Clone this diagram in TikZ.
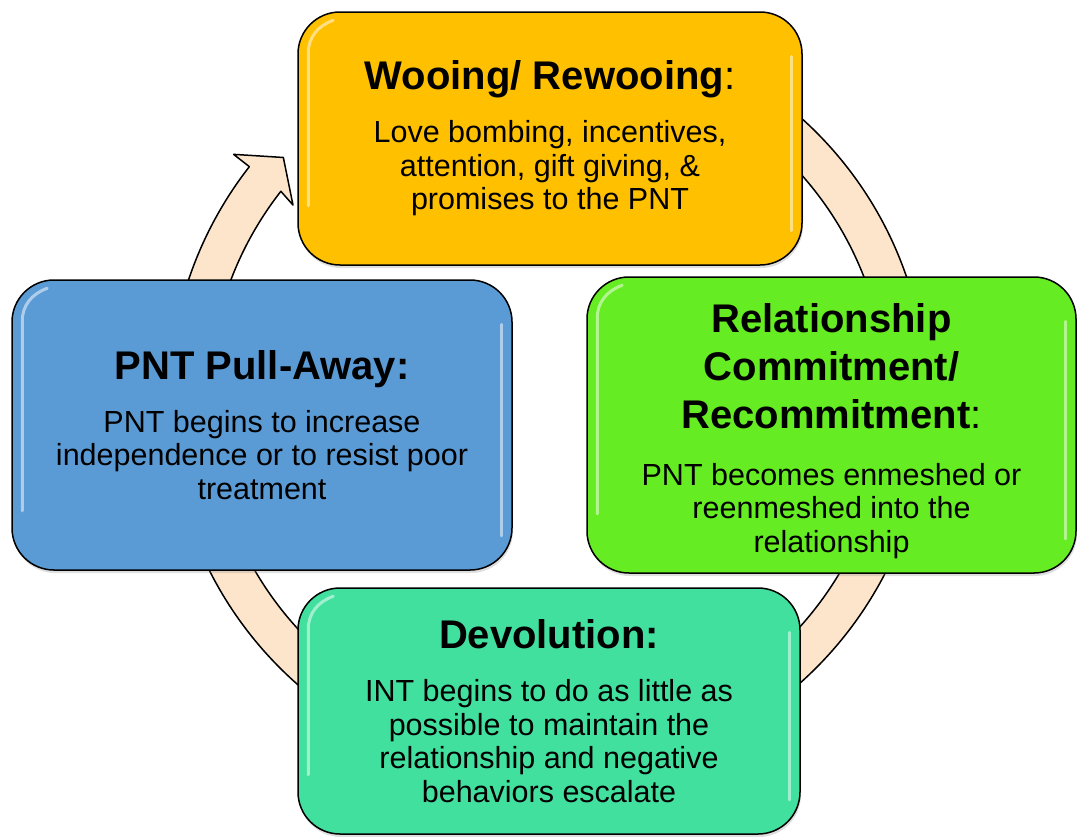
\documentclass[tikz,border=0pt]{standalone}
\usepackage{fontspec}
\setmainfont{Liberation Sans}
\usetikzlibrary{calc,shadows}

\definecolor{woocol}{HTML}{FFC000}
\definecolor{commitcol}{HTML}{66EC22}
\definecolor{devocol}{HTML}{42E09E}
\definecolor{pullcol}{HTML}{5B9BD5}
\definecolor{ringcol}{HTML}{FDE5CB}

\newcommand{\stagetext}[3][19.5pt]{\begin{minipage}{460pt}\centering
  {\fontsize{40}{48}\selectfont #2\par}\vspace{#1}
  {\fontsize{30.5}{33.5}\selectfont #3\par}\end{minipage}}

\begin{document}
\begin{tikzpicture}[x=1pt, y=1pt,
    stage/.style={rectangle, rounded corners=42pt, draw=black, line width=1.5pt, inner sep=0pt,
      drop shadow={opacity=0.25, shadow xshift=1pt, shadow yshift=-3pt}},
    ring/.style={draw=black, line width=1.5pt, fill=ringcol, line join=round},
    gloss/.style={white, opacity=0.5, line width=3pt, line cap=round}]
  \useasboundingbox (0,0) rectangle (1078,-836);

  % cycle arrow behind the boxes
  \coordinate (hub) at (548,-400);
  \draw[ring] ($(hub)+(95:379)$) arc[start angle=95, end angle=-218, radius=379]
    -- ($(hub)+(142:399)$) -- ($(hub)+(137.5:359)$) -- ($(hub)+(142.6:321)$)
    -- ($(hub)+(142:339)$) arc[start angle=142, end angle=455, radius=339] -- cycle;

  % the four stages
  \node[stage, fill=woocol, minimum width=504pt, minimum height=253pt] (woo) at (550,-138.5)
    {\stagetext{\textbf{Wooing/ Rewooing}:}{Love bombing, incentives,\\ attention, gift giving, \&\\ promises to the PNT}};
  \node[stage, fill=commitcol, minimum width=489pt, minimum height=296pt] (commit) at (831.5,-425)
    {\raisebox{-6pt}[\height][\depth]{\stagetext[23pt]{\textbf{Relationship\\ Commitment/\\ Recommitment}:}{PNT becomes enmeshed or\\ reenmeshed into the\\ relationship}}};
  \node[stage, fill=devocol, minimum width=502pt, minimum height=246pt] (devo) at (549,-711)
    {\stagetext{\textbf{Devolution:}}{INT begins to do as little as\\ possible to maintain the\\ relationship and negative\\ behaviors escalate}};
  \node[stage, fill=pullcol, minimum width=500pt, minimum height=290pt] (pullaway) at (262,-425)
    {\stagetext{\textbf{PNT Pull-Away:}}{PNT begins to increase\\ independence or to resist poor\\ treatment}};

  % glossy edges
  \foreach \s in {woo, commit, devo, pullaway} {
    \draw[gloss] ([xshift=36pt, yshift=-9pt]\s.north west) to[out=200, in=90]
      ([xshift=11pt, yshift=-42pt]\s.north west) -- ([xshift=11pt, yshift=60pt]\s.south west);
    \draw[gloss] ([xshift=-11pt, yshift=-45pt]\s.north east) -- ([xshift=-11pt, yshift=35pt]\s.south east);
  }
\end{tikzpicture}
\end{document}
